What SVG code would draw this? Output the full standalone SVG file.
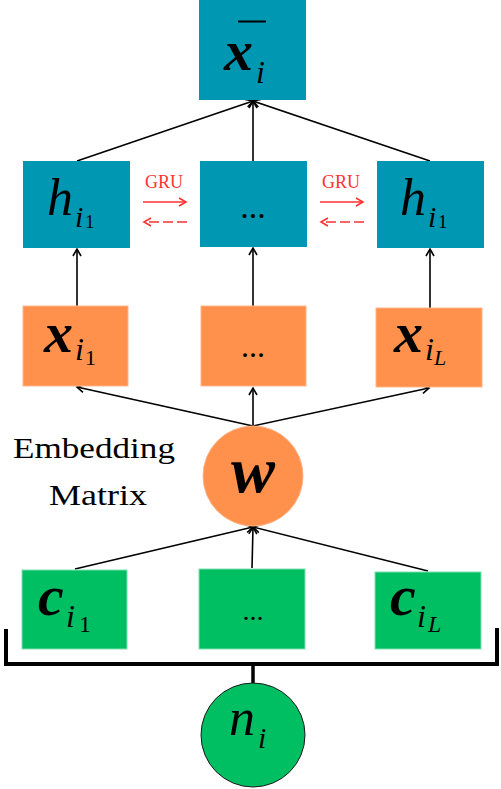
<svg xmlns="http://www.w3.org/2000/svg" width="501" height="789" viewBox="0 0 501 789">
<style>
.teal{fill:#0097B2}
.orange{fill:#FF914D;stroke:#FFB58A;stroke-width:1}
.green{fill:#00BF63;stroke:#7FE0B0;stroke-width:1}
.m{font-family:"Liberation Serif","Times New Roman",serif;font-style:italic;fill:#000}
.b{font-weight:bold}
.r{font-family:"Liberation Serif","Times New Roman",serif;fill:#000}
.conn line{stroke:#000;stroke-width:1.6}
.gru{font-family:"Liberation Serif",serif;font-size:18px;fill:#FF3131}
</style>
<defs>
<marker id="ah" markerUnits="userSpaceOnUse" markerWidth="12" markerHeight="12" viewBox="-8 -6 10 12" refX="0" refY="0" orient="auto">
<path d="M-7,-4 L0,0 L-7,4" fill="none" stroke="#000" stroke-width="1.6"/>
</marker>
<marker id="rh" markerUnits="userSpaceOnUse" markerWidth="12" markerHeight="12" viewBox="-8 -6 10 12" refX="0" refY="0" orient="auto">
<path d="M-7,-4 L0,0 L-7,4" fill="none" stroke="#FF3131" stroke-width="1.6"/>
</marker>
</defs>
<rect width="501" height="789" fill="#fff"/>

<g class="conn">
<line x1="77" y1="161" x2="253" y2="101" marker-end="url(#ah)"/>
<line x1="253" y1="161" x2="253" y2="101" marker-end="url(#ah)"/>
<line x1="430" y1="161" x2="253" y2="101" marker-end="url(#ah)"/>
<line x1="77" y1="306" x2="77" y2="249" marker-end="url(#ah)"/>
<line x1="253" y1="306" x2="253" y2="248" marker-end="url(#ah)"/>
<line x1="430" y1="308" x2="430" y2="249" marker-end="url(#ah)"/>
<line x1="253" y1="426" x2="77" y2="387" marker-end="url(#ah)"/>
<line x1="253" y1="426" x2="253" y2="388" marker-end="url(#ah)"/>
<line x1="253" y1="426" x2="429" y2="388" marker-end="url(#ah)"/>
<line x1="75" y1="569" x2="253" y2="527" marker-end="url(#ah)"/>
<line x1="252" y1="568" x2="253" y2="527" marker-end="url(#ah)"/>
<line x1="428" y1="571" x2="253" y2="527" marker-end="url(#ah)"/>
<path d="M6,629 V664 H497 V628" fill="none" stroke="#000" stroke-width="4"/>
<line x1="253" y1="664" x2="253" y2="683" style="stroke-width:3.5"/>
<g id="gru-left">
<text class="gru" x="164" y="188" text-anchor="middle">GRU</text>
<line x1="143" y1="202" x2="186" y2="202" style="stroke:#FF3131;stroke-width:1.6" marker-end="url(#rh)"/>
<line x1="187" y1="222" x2="144" y2="222" style="stroke:#FF3131;stroke-width:1.6;stroke-dasharray:10 4" marker-end="url(#rh)"/>
</g>
<g id="gru-right">
<text class="gru" x="341" y="188" text-anchor="middle">GRU</text>
<line x1="320" y1="202" x2="363" y2="202" style="stroke:#FF3131;stroke-width:1.6" marker-end="url(#rh)"/>
<line x1="364" y1="222" x2="321" y2="222" style="stroke:#FF3131;stroke-width:1.6;stroke-dasharray:10 4" marker-end="url(#rh)"/>
</g>
</g>

<g id="xbar">
<rect class="teal" x="199" y="0" width="107" height="100"/>
<line x1="238" y1="21.5" x2="266" y2="21.5" stroke="#000" stroke-width="2"/>
<text class="m b" x="224" y="70" font-size="58">x</text>
<text class="m" x="256" y="83" font-size="32">i</text>
</g>

<g id="h1">
<rect class="teal" x="23" y="161" width="107" height="87"/>
<text class="m" x="47" y="215" font-size="52">h</text>
<text class="m" x="75" y="227" font-size="30">i</text>
<text class="r" x="85" y="228" font-size="19">1</text>
</g>
<g id="hmid">
<rect class="teal" x="200" y="161" width="107" height="86"/>
<text class="r" x="253" y="218" font-size="34" text-anchor="middle">...</text>
</g>
<g id="h2">
<rect class="teal" x="377" y="161" width="107" height="87"/>
<text class="m" x="400" y="215" font-size="52">h</text>
<text class="m" x="428" y="227" font-size="30">i</text>
<text class="r" x="438" y="228" font-size="19">1</text>
</g>

<g id="x1">
<rect class="orange" x="23" y="306" width="105" height="80"/>
<text class="m b" x="44" y="352" font-size="58">x</text>
<text class="m" x="75" y="360" font-size="32">i</text>
<text class="r" x="85" y="365" font-size="22">1</text>
</g>
<g id="xmid">
<rect class="orange" x="201" y="306" width="105" height="80"/>
<text class="r" x="253" y="357" font-size="32" text-anchor="middle">...</text>
</g>
<g id="xL">
<rect class="orange" x="376" y="308" width="106" height="79"/>
<text class="m b" x="394" y="352" font-size="58">x</text>
<text class="m" x="425" y="360" font-size="32">i</text>
<text class="m" x="434" y="365" font-size="22">L</text>
</g>

<g id="w">
<circle cx="253" cy="476" r="50" fill="#FF914D" stroke="#FFB58A" stroke-width="1"/>
<text class="m b" x="253" y="492" font-size="66" text-anchor="middle">w</text>
</g>
<g id="label">
<text class="r" x="94" y="458" font-size="30" text-anchor="middle" textLength="162" lengthAdjust="spacingAndGlyphs">Embedding</text>
<text class="r" x="98" y="505" font-size="30" text-anchor="middle" textLength="98" lengthAdjust="spacingAndGlyphs">Matrix</text>
</g>

<g id="c1">
<rect class="green" x="22" y="570" width="105" height="79"/>
<text class="m b" x="38" y="615" font-size="58">c</text>
<text class="m" x="66" y="627" font-size="32">i</text>
<text class="r" x="79" y="632" font-size="24">1</text>
</g>
<g id="cmid">
<rect class="green" x="199" y="569" width="106" height="80"/>
<text class="r" x="253" y="620" font-size="28" text-anchor="middle">...</text>
</g>
<g id="cL">
<rect class="green" x="375" y="572" width="106" height="77"/>
<text class="m b" x="390" y="615" font-size="58">c</text>
<text class="m" x="417" y="627" font-size="32">i</text>
<text class="m" x="428" y="632" font-size="24">L</text>
</g>

<g id="n">
<circle cx="253" cy="735" r="52" fill="#00BF63" stroke="#1a1a1a" stroke-width="1"/>
<text class="m" x="229" y="735" font-size="52">n</text>
<text class="m" x="258" y="748" font-size="30">i</text>
</g>
</svg>
